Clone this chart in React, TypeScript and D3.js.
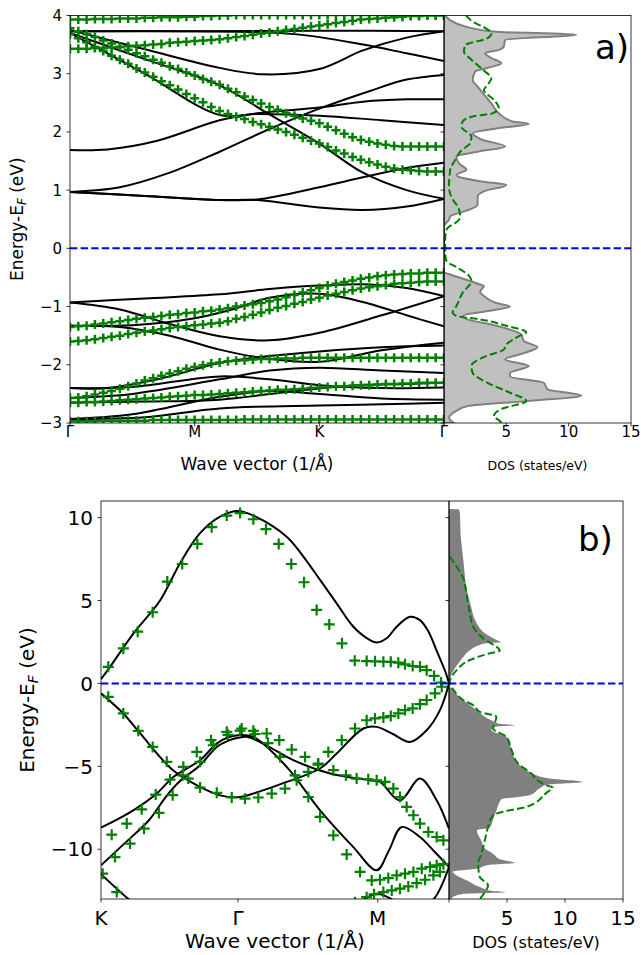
import React from 'react';
import * as d3 from 'd3';

const FONT = 'DejaVu Sans, sans-serif';
const GREEN = '#008000';
const BLUE = '#0000ff';

// ---------------- panel a) : path Γ-M-K-Γ, k in segment units ----------------
const kTicksA = [0, 1, 2, 3];
const kLabelsA = ['Γ', 'M', 'K', 'Γ'];
const eTicksA = [-3, -2, -1, 0, 1, 2, 3, 4];
const dosTicksA = [0, 5, 10, 15];
const dosLabelsA = ['', '5', '10', '15'];

// black bands (k, E)
const bandA1 = [[0, 3.73], [1, 3.73], [2, 3.74], [3, 3.73]];
const bandA2 = [[0, 3.75], [0.6, 3.42], [1.2, 3.1], [1.55, 2.99], [2, 3.08], [2.35, 3.4], [2.7, 3.62], [3, 3.73]];
const bandA3 = [[0, 3.73], [1, 3.73], [1.8, 3.68], [2.35, 3.5], [2.7, 3.35], [3, 3.22]];
const bandA4 = [[0, 0.97], [0.4, 1.05], [0.8, 1.3], [1.2, 1.66], [1.6, 2.05], [2, 2.4], [2.4, 2.7], [2.7, 2.9], [3, 2.98]];
const bandA5 = [[0, 3.7], [0.6, 3.25], [1.2, 2.8], [1.6, 2.3], [2, 1.8], [2.35, 1.3], [2.7, 1.0], [3, 0.85]];
const bandA6 = [[0, 3.7], [0.6, 3.0], [1.2, 2.29], [1.5, 2.31], [2, 2.28], [2.5, 2.2], [3, 2.12]];
const bandA7 = [[0, 1.69], [0.3, 1.7], [0.7, 1.85], [1.2, 2.2], [1.5, 2.32], [2, 2.42], [2.35, 2.52], [2.7, 2.56], [3, 2.56]];
const bandA8 = [[0, 0.97], [0.6, 0.9], [1.2, 0.83], [1.5, 0.83], [2, 0.7], [2.35, 0.66], [2.7, 0.72], [3, 0.85]];
const bandA9 = [[0, 0.97], [0.6, 0.9], [1.2, 0.83], [1.5, 0.84], [2, 1.05], [2.35, 1.22], [2.7, 1.38], [3, 1.47]];
const bandA11 = [[0, -0.93], [0.6, -0.86], [1.2, -0.79], [1.6, -0.7], [2, -0.64], [2.4, -0.62], [2.7, -0.68], [3, -0.82]];
const bandA12 = [[0, -0.93], [0.4, -1.05], [0.8, -1.3], [1.2, -1.51], [1.6, -1.58], [2, -1.45], [2.5, -1.15], [3, -0.82]];
const bandA13 = [[0, -1.33], [0.4, -1.35], [0.8, -1.5], [1.2, -1.74], [1.6, -1.9], [2, -1.95], [2.5, -1.75], [3, -1.62]];
const bandA14 = [[0, -1.33], [0.5, -1.32], [1.0, -1.2], [1.3, -1.05], [1.6, -0.85], [2, -0.78], [2.4, -0.95], [2.7, -1.15], [3, -1.34]];
const bandA15 = [[0, -2.4], [0.3, -2.4], [0.7, -2.25], [1.2, -1.97], [1.6, -1.85], [2, -1.77], [2.5, -1.7], [3, -1.67]];
const bandA16 = [[0, -2.57], [0.5, -2.5], [1.2, -2.25], [1.6, -2.1], [2, -2.05], [2.5, -2.1], [3, -2.14]];
const bandA17 = [[0, -2.65], [0.6, -2.63], [1.2, -2.6], [1.8, -2.45], [2.3, -2.35], [2.7, -2.33], [3, -2.31]];
const bandA18 = [[0, -2.93], [0.5, -2.85], [1.2, -2.55], [1.6, -2.45], [2, -2.5], [2.5, -2.58], [3, -2.6]];
const bandA19 = [[0, -2.93], [0.6, -2.9], [1.2, -2.75], [2, -2.7], [2.5, -2.68], [3, -2.65]];
const bandA20 = [[0, -2.4], [0.5, -2.38], [1.2, -2.2], [1.6, -2.25], [2, -2.35], [2.5, -2.4], [3, -2.39]];
const bandsA = [bandA1, bandA2, bandA3, bandA4, bandA5, bandA6, bandA7, bandA8, bandA9, bandA11, bandA12, bandA13,
  bandA14, bandA15, bandA16, bandA17, bandA18, bandA19, bandA20];

// green "+" bands, one value per k-point (15 k-points per segment, 46 total)
const greenA1 = [3.93, 3.93, 3.93, 3.94, 3.94, 3.94, 3.95, 3.95, 3.95, 3.96, 3.96, 3.97, 3.97, 3.97, 3.98, 3.98, 3.99, 3.99, 4.0, 4.0,
  4.01, 4.01, 4.01, 4.01, 4.01, 4.01, 4.01, 4.01, 4.01, 4.01, 4.01, 4.01, 4.01, 4.01, 4.01, 4.01, 4.01, 4.01, 4.01, 4.01, 4.01, 4.01, 4.01, 4.01, 4.01, 4.01];
const greenA2 = [3.43, 3.43, 3.43, 3.44, 3.44, 3.45, 3.46, 3.47, 3.48, 3.49, 3.5, 3.51, 3.53, 3.54, 3.55, 3.56, 3.57, 3.58, 3.59, 3.61,
  3.63, 3.65, 3.67, 3.69, 3.71, 3.73, 3.75, 3.77, 3.79, 3.81, 3.83, 3.85, 3.87, 3.89, 3.91, 3.93, 3.94, 3.95, 3.96, 3.97, 3.98, 3.99, 3.99, 4.0, 4.0, 4.0];
const greenA3 = [3.78, 3.73, 3.68, 3.63, 3.57, 3.52, 3.46, 3.41, 3.35, 3.3, 3.24, 3.19, 3.13, 3.08, 3.02, 2.97, 2.91, 2.86,
  2.81, 2.74, 2.68, 2.61, 2.55, 2.49, 2.43, 2.38, 2.32, 2.28, 2.23, 2.19, 2.15, 2.09, 2.03, 1.97, 1.91, 1.86, 1.83, 1.8, 1.78, 1.76, 1.75, 1.75, 1.75, 1.75, 1.75, 1.75];
const greenA4 = [3.68, 3.61, 3.54, 3.46, 3.39, 3.31, 3.24, 3.17, 3.09, 3.02, 2.95, 2.87, 2.8, 2.73, 2.65, 2.58, 2.51, 2.43,
  2.36, 2.31, 2.26, 2.22, 2.17, 2.13, 2.09, 2.04, 2.0, 1.95, 1.9, 1.85, 1.8, 1.74, 1.68, 1.63, 1.57, 1.52, 1.48, 1.44, 1.4, 1.37, 1.35, 1.34, 1.33, 1.32, 1.32, 1.32];
const greenA5 = [-1.35, -1.34, -1.33, -1.31, -1.29, -1.27, -1.25, -1.23, -1.21, -1.19, -1.18, -1.16, -1.14, -1.13, -1.11, -1.1, -1.08, -1.07, -1.05, -1.03,
  -1.0, -0.98, -0.96, -0.94, -0.91, -0.88, -0.84, -0.8, -0.76, -0.72, -0.68, -0.64, -0.61, -0.58, -0.55, -0.52, -0.5, -0.48, -0.46, -0.45, -0.44, -0.43, -0.43, -0.42, -0.42, -0.42];
const greenA6 = [-1.6, -1.59, -1.58, -1.56, -1.54, -1.52, -1.5, -1.47, -1.45, -1.43, -1.41, -1.39, -1.37, -1.35, -1.34, -1.32, -1.31, -1.29, -1.28, -1.25,
  -1.21, -1.18, -1.14, -1.1, -1.06, -1.02, -0.99, -0.95, -0.92, -0.88, -0.85, -0.81, -0.78, -0.75, -0.72, -0.69, -0.67, -0.65, -0.63, -0.61, -0.6, -0.59, -0.58, -0.57, -0.57, -0.57];
const greenA7 = [-2.57, -2.56, -2.54, -2.51, -2.48, -2.45, -2.41, -2.37, -2.32, -2.27, -2.23, -2.19, -2.15, -2.11, -2.07, -2.04, -2.01, -1.98, -1.96, -1.94,
  -1.93, -1.92, -1.91, -1.9, -1.9, -1.89, -1.89, -1.89, -1.88, -1.88, -1.88, -1.88, -1.88, -1.88, -1.88, -1.88, -1.88, -1.88, -1.88, -1.88, -1.88, -1.88, -1.88, -1.88, -1.88, -1.88];
const greenA8 = [-2.65, -2.65, -2.64, -2.64, -2.63, -2.62, -2.61, -2.6, -2.59, -2.58, -2.57, -2.56, -2.55, -2.54, -2.53, -2.52, -2.52, -2.51, -2.5, -2.49,
  -2.48, -2.47, -2.46, -2.45, -2.44, -2.43, -2.43, -2.42, -2.41, -2.4, -2.39, -2.38, -2.37, -2.37, -2.36, -2.35, -2.35, -2.34, -2.33, -2.33, -2.32, -2.32, -2.31, -2.31, -2.31, -2.31];
const greenA9 = [-2.97, -2.97, -2.97, -2.97, -2.96, -2.96, -2.96, -2.96, -2.96, -2.96, -2.95, -2.95, -2.95, -2.95, -2.95, -2.95, -2.95, -2.95, -2.95, -2.95,
  -2.95, -2.94, -2.94, -2.94, -2.94, -2.94, -2.94, -2.94, -2.94, -2.94, -2.94, -2.94, -2.94, -2.94, -2.94, -2.94, -2.94, -2.94, -2.94, -2.94, -2.94, -2.94, -2.94, -2.94, -2.94, -2.94];
const greenA = [greenA1, greenA2, greenA3, greenA4, greenA5, greenA6, greenA7, greenA8, greenA9];

// DOS (E, states/eV)
const dosGrayA = [[4.0, 0], [3.99, 0.1], [3.92, 0.5], [3.81, 1.7], [3.72, 4.2], [3.67, 10.6], [3.58, 4.9], [3.47, 4.8], [3.41, 4.4], [3.35, 3.3],
  [3.27, 3.8], [3.18, 4.6], [3.09, 3.3], [3.04, 2.5], [2.89, 2.3], [2.78, 2.7], [2.67, 3.1], [2.49, 3.8], [2.32, 4.4], [2.18, 5.5], [2.14, 6.8],
  [2.06, 4.2], [1.98, 2.3], [1.87, 3.0], [1.75, 4.9], [1.66, 2.7], [1.58, 1.0], [1.46, 1.2], [1.35, 1.8], [1.26, 1.0], [1.15, 3.0], [1.09, 5.0],
  [0.98, 3.2], [0.9, 2.7], [0.75, 2.7], [0.64, 1.7], [0.55, 0.5], [0.49, 0.4], [0.43, 0.15], [0.38, 0], [-0.4, 0], [-0.42, 0.1], [-0.45, 0.5],
  [-0.54, 1.8], [-0.6, 2.6], [-0.65, 3.2], [-0.74, 2.9], [-0.82, 3.2], [-0.94, 4.2], [-1.0, 5.3], [-1.08, 3.4], [-1.16, 1.5], [-1.22, 1.9],
  [-1.33, 4.2], [-1.48, 6.2], [-1.59, 6.4], [-1.7, 7.5], [-1.8, 6.4], [-1.91, 4.9], [-2.02, 6.8], [-2.14, 5.3], [-2.2, 5.3], [-2.31, 8.0],
  [-2.42, 8.3], [-2.53, 11.0], [-2.62, 6.9], [-2.71, 1.9], [-2.79, 1.0], [-2.91, 0.4], [-3.0, 0.8]];
const dosGreenA = [[4.0, 1.75], [3.99, 1.8], [3.88, 2.4], [3.8, 3.2], [3.69, 3.8], [3.61, 3.5], [3.49, 1.7], [3.38, 1.6], [3.24, 2.2], [3.07, 3.1],
  [2.92, 3.8], [2.81, 3.5], [2.72, 3.2], [2.55, 4.0], [2.41, 4.4], [2.32, 3.9], [2.27, 2.4], [2.18, 1.5], [2.09, 1.4], [1.92, 2.2], [1.81, 2.1],
  [1.66, 1.3], [1.52, 0.9], [1.35, 0.5], [1.06, 0.4], [0.84, 0.7], [0.72, 1.1], [0.55, 1.3], [0.49, 1.2], [0.32, 0.2], [0.15, 0.1], [-0.08, 0.1],
  [-0.22, 0.2], [-0.31, 0.9], [-0.45, 1.9], [-0.56, 2.2], [-0.76, 1.5], [-0.99, 1.0], [-1.1, 0.7], [-1.16, 1.0], [-1.22, 2.9], [-1.33, 5.0],
  [-1.44, 6.6], [-1.5, 6.1], [-1.65, 5.0], [-1.74, 4.8], [-1.85, 3.4], [-2.02, 2.2], [-2.14, 2.3], [-2.31, 3.5], [-2.48, 5.3], [-2.62, 6.6],
  [-2.76, 4.6], [-2.88, 4.0], [-2.97, 4.5], [-3.0, 4.6]];

// ---------------- panel b) : path K-Γ-M-K ----------------
const kTicksB = [0, 1, 2.02];
const kLabelsB = ['K', 'Γ', 'M'];
const eTicksB = [-10, -5, 0, 5, 10];
const dosTicksB = [0, 5, 10, 15];
const dosLabelsB = ['', '5', '10', '15'];

const bandB1 = [[0, 0.25], [0.066, 1.0], [0.236, 3.0], [0.431, 5.0], [0.577, 7.25], [0.723, 9.06], [0.869, 10.06], [1.0, 10.4], [1.117, 10.1],
  [1.355, 8.85], [1.477, 7.65], [1.599, 6.24], [1.72, 4.83], [1.842, 3.42], [1.964, 2.61], [2.012, 2.47], [2.085, 2.72], [2.158, 3.42],
  [2.255, 4.02], [2.328, 3.82], [2.385, 3.2], [2.458, 1.81], [2.518, 0.6], [2.54, 0]];
const bandB2 = [[0, -0.6], [0.161, -1.8], [0.285, -3.0], [0.526, -5.24], [0.723, -6.24], [0.869, -6.75], [1.015, -6.85], [1.112, -6.64],
  [1.355, -5.94], [1.599, -5.13], [1.72, -4.23], [1.915, -2.72], [2.012, -2.62], [2.13, -3.05], [2.255, -3.53], [2.377, -2.82], [2.474, -1.61], [2.54, 0]];
const bandB3 = [[0, -8.7], [0.236, -7.65], [0.407, -6.64], [0.528, -5.64], [0.723, -4.63], [0.845, -3.62], [0.93, -3.25], [1.0, -3.12],
  [1.112, -3.22], [1.355, -5.03], [1.599, -7.65], [1.842, -9.87], [2.012, -11.27], [2.1, -10.1], [2.195, -8.66], [2.328, -9.26], [2.44, -10.2], [2.54, -11.07]];
const bandB4 = [[0, -10.97], [0.17, -9.66], [0.35, -8.25], [0.472, -6.85], [0.569, -5.94], [0.723, -4.93], [0.845, -3.83], [0.93, -3.45],
  [1.0, -3.28], [1.064, -3.22], [1.2, -3.7], [1.404, -4.63], [1.672, -5.43], [1.964, -5.84], [2.036, -5.94], [2.182, -7.05], [2.328, -5.74],
  [2.45, -7.05], [2.54, -8.76]];
const bandB5 = [[0, -11.5], [0.2, -13.0], [0.5, -15.0], [1.0, -16.0], [1.5, -15.0], [1.85, -13.4], [2.012, -12.68], [2.14, -13.1],
  [2.3, -13.8], [2.43, -13.0], [2.54, -11.07]];
const bandsB = [bandB1, bandB2, bandB3, bandB4, bandB5];

const greenB1 = [[0.053, 1.0], [0.163, 2.11], [0.268, 3.12], [0.377, 4.29], [0.484, 6.14], [0.593, 7.2], [0.703, 8.41], [0.808, 9.42],
  [0.918, 10.12], [1.015, 10.27], [1.112, 9.9], [1.204, 9.3], [1.297, 8.41], [1.389, 7.2], [1.482, 6.1], [1.574, 4.43], [1.666, 3.56],
  [1.759, 2.42], [1.852, 1.37], [1.939, 1.35], [2.0, 1.33], [2.061, 1.31], [2.115, 1.3], [2.17, 1.25], [2.219, 1.15], [2.275, 1.05],
  [2.328, 1.0], [2.377, 0.8], [2.431, 0.45], [2.482, 0.05]];
const greenB2 = [[0.053, -0.81], [0.163, -1.81], [0.272, -2.86], [0.377, -3.83], [0.48, -4.73], [0.596, -5.54], [0.723, -6.28], [0.845, -6.6],
  [0.954, -6.88], [1.051, -6.95], [1.148, -6.88], [1.246, -6.64], [1.343, -6.34], [1.428, -5.84], [1.513, -5.34], [1.586, -4.83], [1.659, -4.13],
  [1.757, -3.42], [1.854, -2.72], [1.939, -2.22], [2.0, -2.11], [2.061, -2.05], [2.115, -1.97], [2.17, -1.81], [2.219, -1.61], [2.275, -1.51],
  [2.328, -1.25], [2.377, -1.0], [2.438, -0.6], [2.487, -0.2]];
const greenB3 = [[0.078, -9.12], [0.188, -8.45], [0.297, -7.59], [0.399, -6.7], [0.504, -5.8], [0.601, -5.03], [0.699, -4.13], [0.803, -3.42],
  [0.918, -2.92], [1.027, -2.72], [1.112, -2.86], [1.209, -3.02], [1.301, -3.42], [1.392, -3.99], [1.489, -4.43], [1.584, -4.9], [1.696, -5.23],
  [1.788, -5.54], [1.866, -5.74], [1.951, -5.78], [2.012, -5.84], [2.073, -5.94], [2.134, -6.34], [2.182, -6.85], [2.231, -7.45], [2.28, -7.95],
  [2.328, -8.45], [2.389, -8.96], [2.45, -9.26], [2.499, -9.46]];
const greenB4 = [[0.102, -10.47], [0.212, -9.66], [0.314, -8.76], [0.423, -7.81], [0.523, -6.74], [0.637, -5.74], [0.723, -4.73], [0.82, -3.73],
  [0.927, -3.1], [1.015, -2.85], [1.124, -3.05], [1.219, -3.6], [1.307, -4.43], [1.416, -5.54], [1.513, -6.85], [1.599, -8.05], [1.696, -9.16],
  [1.793, -10.31], [1.891, -11.37], [1.976, -11.88], [2.036, -11.84], [2.097, -11.74], [2.158, -11.57], [2.219, -11.47], [2.28, -11.37],
  [2.341, -11.17], [2.401, -11.07], [2.45, -10.97], [2.499, -10.9]];
const greenB5 = [[1.854, -13.2], [1.939, -12.89], [1.993, -12.72], [2.061, -12.58], [2.122, -12.48], [2.182, -12.38], [2.243, -12.24],
  [2.304, -12.04], [2.365, -11.84], [2.426, -11.57], [2.474, -11.37]];
const greenB6 = [[0.012, -11.47], [0.115, -12.58], [0.212, -13.6]];
const greenB = [greenB1, greenB2, greenB3, greenB4, greenB5, greenB6];

const dosGrayB = [[10.52, 0], [10.5, 0.85], [10.2, 0.95], [9.0, 1.0], [8.25, 1.1], [7.0, 1.3], [6.24, 1.4], [5.0, 1.75], [4.63, 1.9], [3.62, 2.4],
  [3.02, 3.1], [2.62, 4.1], [2.48, 4.5], [2.42, 3.2], [2.3, 2.6], [2.0, 1.8], [1.6, 1.23], [1.2, 0.8], [0.8, 0.4], [0.4, 0.15], [0, 0],
  [-0.4, 0.3], [-1.0, 1.23], [-1.6, 2.37], [-2.2, 3.6], [-2.45, 4.5], [-2.52, 5.66], [-2.6, 4.0], [-2.82, 3.66], [-3.22, 4.95], [-4.03, 5.4],
  [-4.83, 5.95], [-5.34, 6.95], [-5.74, 8.66], [-5.94, 11.5], [-6.1, 8.5], [-6.34, 7.8], [-6.74, 6.95], [-7.0, 4.5], [-7.65, 4.1], [-8.2, 3.8],
  [-8.7, 3.5], [-8.85, 2.4], [-9.5, 2.8], [-9.96, 3.09], [-10.27, 3.8], [-10.6, 4.4], [-10.83, 5.66], [-10.95, 3.4], [-11.17, 2.37],
  [-11.35, 0.3], [-11.5, 0.5], [-11.9, 1.6], [-12.28, 2.66], [-12.5, 3.6], [-12.6, 4.95], [-12.7, 1.2], [-12.9, 0.3], [-13.0, 0.2]];
const dosGreenB = [[7.65, 0.05], [7.04, 0.66], [6.34, 1.23], [5.43, 1.5], [4.23, 1.8], [3.42, 2.08], [2.72, 2.94], [1.97, 4.37], [1.81, 3.5],
  [1.41, 1.8], [0.8, 0.66], [0.2, 0.1], [0, 0.05], [-0.4, 0.4], [-1.0, 1.23], [-1.31, 2.08], [-1.71, 2.66], [-2.01, 4.09], [-2.72, 3.8],
  [-3.22, 4.95], [-4.03, 5.4], [-4.83, 5.95], [-5.34, 6.95], [-6.14, 8.38], [-6.28, 8.95], [-6.54, 8.5], [-7.45, 6.66], [-7.65, 5.23],
  [-7.95, 3.8], [-8.66, 3.37], [-9.46, 3.09], [-10.27, 2.8], [-10.87, 2.51], [-11.68, 2.66], [-12.18, 3.37], [-12.58, 3.09], [-13.0, 2.66]];

// "+" marker path
function plus(pts: number[][], h: number) {
  return pts.map(([px, py]) => `M${px - h},${py}h${2 * h}M${px},${py - h}v${2 * h}`).join('');
}

type PanelCfg = {
  id: string; left: number; split: number; right: number; top: number; bottom: number;
  kDomain: number[]; eDomain: number[];
  tickFont: number; labelFont: number; dosLabelFont: number;
  tickLabelY: number; xLabelY: number; yLabelX: number; tag: string; tagX: number; tagY: number;
  dosFill: string; dosStroke: string; lineW: number; markH: number; markW: number;
};

function Panel({ cfg, bands, greens, greenIdx, dosGray, dosGreen, kTicks, kLabels, eTicks, dosTicks, dosLabels }: any) {
  const c: PanelCfg = cfg;
  const x = d3.scaleLinear().domain(c.kDomain).range([c.left, c.split]);
  const y = d3.scaleLinear().domain(c.eDomain).range([c.bottom, c.top]);
  const xd = d3.scaleLinear().domain([0, 15]).range([c.split, c.right]);
  const xi = d3.scaleLinear().domain([0, 45]).range([c.left, c.split]);

  const band = d3.line<number[]>().x(d => x(d[0])).y(d => y(d[1])).curve(d3.curveCatmullRom.alpha(0.5));
  const area = d3.area<number[]>().y(d => y(d[0])).x0(xd(0)).x1(d => xd(d[1])).curve(d3.curveMonotoneY);
  const dline = d3.line<number[]>().x(d => xd(d[1])).y(d => y(d[0])).curve(d3.curveMonotoneY);

  const markPts = (g: any[]) => greenIdx
    ? g.map((v: number, i: number) => [xi(i), y(v)])
    : g.map((p: number[]) => [x(p[0]), y(p[1])]);

  const y0 = y(0);
  return (
    <g>
      <defs>
        <clipPath id={`${c.id}b`}><rect x={c.left} y={c.top} width={c.split - c.left} height={c.bottom - c.top} /></clipPath>
        <clipPath id={`${c.id}d`}><rect x={c.split} y={c.top} width={c.right - c.split} height={c.bottom - c.top} /></clipPath>
      </defs>
      <g clipPath={`url(#${c.id}b)`}>
        {bands.map((b: number[][], i: number) => (
          <path key={i} d={band(b as any) || ''} fill="none" stroke="#000" strokeWidth={c.lineW} />
        ))}
        {greens.map((g: any[], i: number) => (
          <path key={i} d={plus(markPts(g), c.markH)} fill="none" stroke={GREEN} strokeWidth={c.markW} />
        ))}
        <line x1={c.left} x2={c.split} y1={y0} y2={y0} stroke={BLUE} strokeWidth={2} strokeDasharray="7.4,3.2" />
      </g>
      <g clipPath={`url(#${c.id}d)`}>
        <path d={area(dosGray as any) || ''} fill={c.dosFill} stroke={c.dosStroke} strokeWidth={c.dosStroke === 'none' ? 0 : 2} />
        <path d={dline(dosGreen as any) || ''} fill="none" stroke={GREEN} strokeWidth={2} strokeDasharray="7.4,3.2" />
        <line x1={c.split} x2={c.right} y1={y0} y2={y0} stroke={BLUE} strokeWidth={2} strokeDasharray="7.4,3.2" />
      </g>
      {/* frames */}
      <rect x={c.left} y={c.top} width={c.split - c.left} height={c.bottom - c.top} fill="none" stroke="#000" strokeWidth={0.8} />
      <rect x={c.split} y={c.top} width={c.right - c.split} height={c.bottom - c.top} fill="none" stroke="#000" strokeWidth={0.8} />
      {/* y ticks */}
      {eTicks.map((t: number) => (
        <g key={t}>
          <line x1={c.left - 3.5} x2={c.left} y1={y(t)} y2={y(t)} stroke="#000" strokeWidth={0.8} />
          <line x1={c.split - 3.5} x2={c.split} y1={y(t)} y2={y(t)} stroke="#000" strokeWidth={0.8} />
          <text x={c.left - 8} y={y(t)} dy="0.36em" textAnchor="end" fontSize={c.tickFont}>{t < 0 ? `\u2212${-t}` : `${t}`}</text>
        </g>
      ))}
      {/* x ticks */}
      {kTicks.map((k: number, i: number) => (
        <g key={`k${i}`}>
          <line x1={x(k)} x2={x(k)} y1={c.bottom} y2={c.bottom + 3.5} stroke="#000" strokeWidth={0.8} />
          <text x={x(k)} y={c.tickLabelY} textAnchor="middle" fontSize={c.tickFont}>{kLabels[i]}</text>
        </g>
      ))}
      {dosTicks.map((t: number, i: number) => (
        <g key={`d${i}`}>
          <line x1={xd(t)} x2={xd(t)} y1={c.bottom} y2={c.bottom + 3.5} stroke="#000" strokeWidth={0.8} />
          <text x={xd(t)} y={c.tickLabelY} textAnchor="middle" fontSize={c.tickFont}>{dosLabels[i]}</text>
        </g>
      ))}
      {/* axis labels */}
      <text x={(c.left + c.split) / 2} y={c.xLabelY} textAnchor="middle" fontSize={c.labelFont}>Wave vector (1/Å)</text>
      <text x={(c.split + c.right) / 2} y={c.xLabelY} textAnchor="middle" fontSize={c.dosLabelFont}>DOS (states/eV)</text>
      <text transform={`translate(${c.yLabelX},${(c.top + c.bottom) / 2}) rotate(-90)`} textAnchor="middle" fontSize={c.labelFont}>
        Energy-E<tspan fontStyle="italic" fontSize={c.labelFont * 0.7} dy={c.labelFont * 0.2}>F</tspan>
        <tspan dy={-c.labelFont * 0.2}> (eV)</tspan>
      </text>
      <text x={c.tagX} y={c.tagY} fontSize={34}>{c.tag}</text>
    </g>
  );
}

const cfgA: PanelCfg = {
  id: 'pa', left: 70, split: 444, right: 631, top: 15.5, bottom: 423,
  kDomain: [0, 3], eDomain: [-3, 4], tickFont: 15, labelFont: 17, dosLabelFont: 12.5,
  tickLabelY: 437, xLabelY: 470, yLabelX: 23, tag: 'a)', tagX: 595, tagY: 59,
  dosFill: '#c0c0c0', dosStroke: '#808080', lineW: 2, markH: 4.5, markW: 2.5,
};
const cfgB: PanelCfg = {
  id: 'pb', left: 101, split: 449, right: 623, top: 501, bottom: 899,
  kDomain: [0, 2.54], eDomain: [-13, 11], tickFont: 20, labelFont: 20, dosLabelFont: 16,
  tickLabelY: 925, xLabelY: 948, yLabelX: 34, tag: 'b)', tagX: 578, tagY: 551,
  dosFill: '#808080', dosStroke: 'none', lineW: 2, markH: 5.5, markW: 2.2,
};

export default function App() {
  return (
    <svg width={641} height={955} fontFamily={FONT}
      style={{ position: 'absolute', left: 0, top: 0, background: '#fff' }}>
      <Panel cfg={cfgA} bands={bandsA} greens={greenA} greenIdx={true} dosGray={dosGrayA} dosGreen={dosGreenA}
        kTicks={kTicksA} kLabels={kLabelsA} eTicks={eTicksA} dosTicks={dosTicksA} dosLabels={dosLabelsA} />
      <Panel cfg={cfgB} bands={bandsB} greens={greenB} greenIdx={false} dosGray={dosGrayB} dosGreen={dosGreenB}
        kTicks={kTicksB} kLabels={kLabelsB} eTicks={eTicksB} dosTicks={dosTicksB} dosLabels={dosLabelsB} />
    </svg>
  );
}
